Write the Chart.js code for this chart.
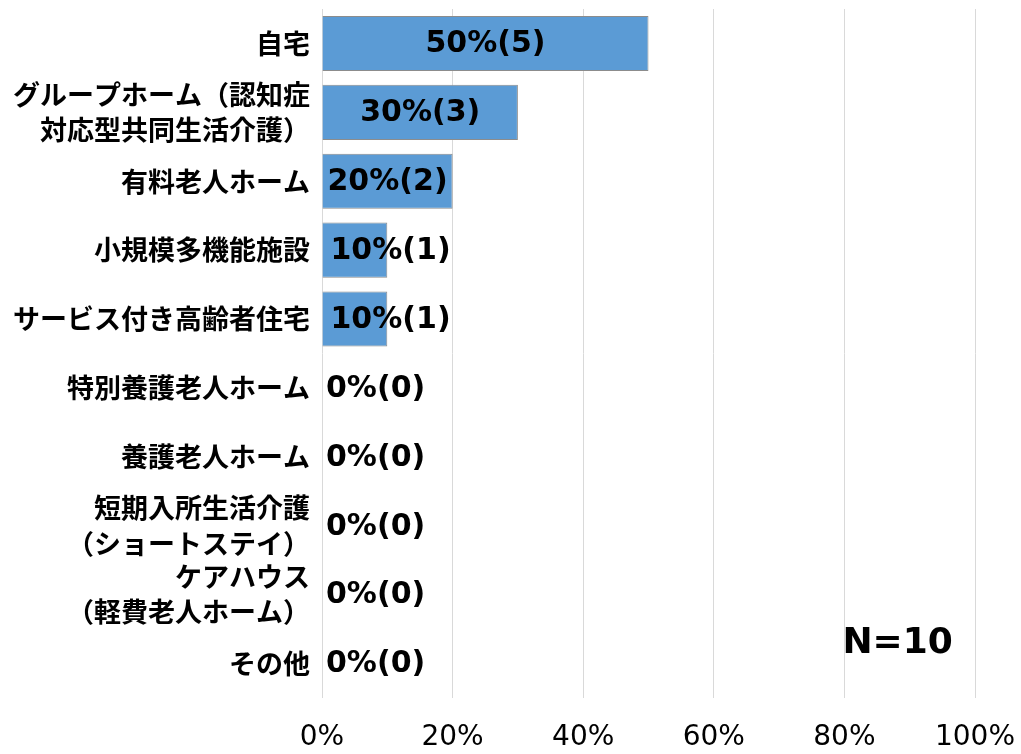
<!DOCTYPE html>
<html>
<head>
<meta charset="utf-8">
<script src="https://cdn.jsdelivr.net/npm/chart.js@4"></script>
<style>
  html, body { margin: 0; padding: 0; background: #fff; }
  #wrap { width: 1021px; height: 754px; }
</style>
</head>
<body>
<div id="wrap"><canvas id="chart"></canvas></div>
<script>
const categories = [
    '自宅',
    ['グループホーム（認知症', '対応型共同生活介護）'],
    '有料老人ホーム',
    '小規模多機能施設',
    'サービス付き高齢者住宅',
    '特別養護老人ホーム',
    '養護老人ホーム',
    ['短期入所生活介護', '（ショートステイ）'],
    ['ケアハウス', '（軽費老人ホーム）'],
    'その他'
];
const percents = [50, 30, 20, 10, 10, 0, 0, 0, 0, 0];
const counts = [5, 3, 2, 1, 1, 0, 0, 0, 0, 0];
const xTicks = [0, 20, 40, 60, 80, 100];
const totalN = 10;

const JP = '"Noto Sans CJK JP", sans-serif';
const NUM = '"DejaVu Sans", "Noto Sans CJK JP", sans-serif';

// value labels: centred in the bar when they fit, otherwise just right of the base
const barLabels = {
    id: 'barLabels',
    afterDatasetsDraw(chart) {
        const ctx = chart.ctx;
        const meta = chart.getDatasetMeta(0);
        ctx.save();
        ctx.font = 'bold 30px ' + NUM;
        ctx.fillStyle = '#000';
        ctx.textBaseline = 'middle';
        meta.data.forEach((bar, i) => {
            const text = percents[i] + '%(' + counts[i] + ')';
            const w = ctx.measureText(text).width;
            const barW = bar.x - bar.base;
            if (w + 8 < barW) {
                ctx.textAlign = 'center';
                ctx.fillText(text, bar.base + barW / 2, bar.y + 1);
            } else {
                ctx.textAlign = 'left';
                ctx.fillText(text, bar.base + (barW > 0 ? 8 : 4), bar.y + 1);
            }
        });
        ctx.restore();
    }
};

// sample size note in the lower right of the plot
const sampleNote = {
    id: 'sampleNote',
    afterDraw(chart) {
        const ctx = chart.ctx;
        const x = chart.scales.x;
        ctx.save();
        ctx.font = 'bold 36px ' + NUM;
        ctx.fillStyle = '#000';
        ctx.textAlign = 'left';
        ctx.textBaseline = 'middle';
        ctx.fillText('N=' + totalN, x.getPixelForValue(80) - 2, 644);
        ctx.restore();
    }
};

new Chart(document.getElementById('chart'), {
    type: 'bar',
    data: {
        labels: categories,
        datasets: [{
            data: percents,
            backgroundColor: '#5b9bd5',
            borderColor: '#8c8c8c',
            borderWidth: 1,
            categoryPercentage: 0.8,
            barPercentage: 1.0
        }]
    },
    options: {
        indexAxis: 'y',
        responsive: true,
        maintainAspectRatio: false,
        animation: false,
        layout: { padding: { top: 9, right: 46, left: 0, bottom: 0 } },
        plugins: {
            legend: { display: false },
            tooltip: { enabled: false }
        },
        scales: {
            x: {
                min: 0,
                max: 100,
                afterBuildTicks(scale) {
                    scale.ticks = xTicks.map(v => ({ value: v }));
                },
                afterFit(scale) {
                    scale.height = 56;
                    scale.paddingLeft = 0;
                    scale.paddingRight = 0;
                },
                border: { display: false },
                grid: { color: '#d9d9d9', lineWidth: 1, drawTicks: false },
                ticks: {
                    padding: 23,
                    color: '#000',
                    maxRotation: 0,
                    font: { family: NUM, size: 28 },
                    callback: v => v + '%'
                }
            },
            y: {
                afterFit(scale) {
                    scale.width = 322;
                    scale.paddingTop = 0;
                    scale.paddingBottom = 0;
                },
                border: { display: false },
                grid: { display: false, drawTicks: false },
                ticks: {
                    autoSkip: false,
                    padding: 12,
                    color: '#000',
                    font: { family: JP, size: 27, weight: 'bold', lineHeight: 1.3 }
                }
            }
        }
    },
    plugins: [barLabels, sampleNote]
});
</script>
</body>
</html>
